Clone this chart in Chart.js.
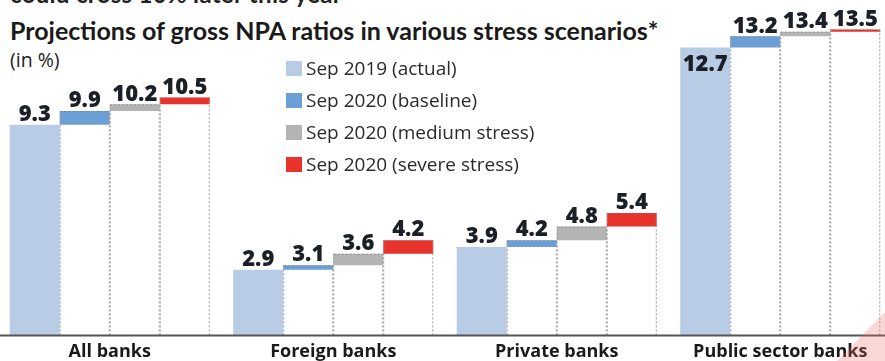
<!DOCTYPE html>
<html>
<head>
<meta charset="utf-8">
<script src="https://cdn.jsdelivr.net/npm/chart.js@4/dist/chart.umd.min.js"></script>
<style>
    body { margin: 0; background: #fff; width: 885px; height: 361px; overflow: hidden; position: relative; font-family: "Open Sans", sans-serif; }
    #topline { position: absolute; left: 10px; top: -21px; font-family: Lato, sans-serif; font-size: 24px; font-weight: 700; color: #222; white-space: nowrap; letter-spacing: 0.3px; }
    #titulo { position: absolute; left: 10px; top: 15px; font-family: Lato, sans-serif; font-size: 25px; font-weight: 700; color: #1a1a1a; white-space: nowrap; }
    #unidade { position: absolute; left: 10px; top: 46px; font-size: 19.5px; color: #222; }
    #legenda { position: absolute; left: 286px; top: 52px; }
    .item { height: 32px; font-size: 19px; color: #2a2a2a; display: flex; align-items: center; white-space: nowrap; }
    .item span { display: inline-block; width: 16px; height: 15px; margin-right: 4px; }
    #grafico_box { position: absolute; left: -2px; top: 0; width: 894px; height: 361px; }
    #canto { position: absolute; left: 0; top: 0; width: 885px; height: 361px; pointer-events: none;
             background: rgba(238, 110, 110, 0.28); clip-path: polygon(837px 361px, 885px 312px, 885px 361px); }
</style>
</head>
<body>
<div id="topline">could cross 10% later this year</div>
<div id="titulo">Projections of gross NPA ratios in various stress scenarios*</div>
<div id="unidade">(in %)</div>
<div id="grafico_box"><canvas id="grafico"></canvas></div>
<div id="legenda"></div>
<div id="canto"></div>

<script>
// dados
const categorias = ['All banks', 'Foreign banks', 'Private banks', 'Public sector banks'];
const series = ['Sep 2019 (actual)', 'Sep 2020 (baseline)', 'Sep 2020 (medium stress)', 'Sep 2020 (severe stress)'];
const sep2019 = [9.3, 2.9, 3.9, 12.7];
const baseline = [9.9, 3.1, 4.2, 13.2];
const medio = [10.2, 3.6, 4.8, 13.4];
const severo = [10.5, 4.2, 5.4, 13.5];
const cores = ['#b8cce6', '#6c9fd6', '#b4b4b4', '#e8332c'];

const valores = [sep2019, baseline, medio, severo];

// legenda em html
const legenda = document.getElementById('legenda');
series.forEach(function (s, i) {
    legenda.innerHTML += "<div class='item'><span style='background:" + cores[i] + "'></span>" + s + "</div>";
});

// cada projeção é uma faixa flutuante a partir do valor anterior (cascata)
const datasets = valores.map(function (v, i) {
    return {
        label: series[i],
        data: i === 0 ? v : v.map((x, j) => [valores[i - 1][j], x]),
        backgroundColor: cores[i],
        borderWidth: 0,
        stack: 's' + i
    };
});

// linhas pontilhadas e rótulos
const extras = {
    id: 'extras',
    afterDatasetsDraw(chart) {
        const ctx = chart.ctx;
        const y = chart.scales.y;
        const zero = y.getPixelForValue(0);
        ctx.save();
        for (let d = 1; d < 4; d++) {
            chart.getDatasetMeta(d).data.forEach(function (bar) {
                const esq = bar.x - bar.width / 2 + 0.5;
                const dir = bar.x + bar.width / 2 - 0.5;
                ctx.strokeStyle = '#9a9a9a';
                ctx.lineWidth = 1;
                ctx.setLineDash([2, 2]);
                ctx.beginPath();
                ctx.moveTo(esq, zero); ctx.lineTo(esq, bar.y);
                ctx.moveTo(dir, zero); ctx.lineTo(dir, bar.y);
                ctx.stroke();
                ctx.strokeStyle = 'rgba(120,120,120,0.6)';
                ctx.beginPath();
                ctx.moveTo(esq, bar.y + 0.5); ctx.lineTo(dir, bar.y + 0.5);
                ctx.stroke();
            });
        }
        ctx.setLineDash([]);
        ctx.font = "800 22px 'Open Sans'";
        ctx.fillStyle = '#1b1f26';
        ctx.textAlign = 'center';
        for (let d = 0; d < 4; d++) {
            chart.getDatasetMeta(d).data.forEach(function (bar, j) {
                const txt = valores[d][j].toFixed(1);
                if (d === 0 && bar.y < 60) {
                    ctx.textBaseline = 'top';
                    ctx.fillText(txt, bar.x, bar.y + 6);
                } else {
                    ctx.textBaseline = 'bottom';
                    ctx.fillText(txt, bar.x, bar.y + 1);
                }
            });
        }
        // linha do eixo
        ctx.strokeStyle = '#555';
        ctx.lineWidth = 2;
        ctx.beginPath();
        ctx.moveTo(0, zero); ctx.lineTo(chart.width, zero);
        ctx.stroke();
        ctx.restore();
    }
};

new Chart(document.getElementById('grafico'), {
    type: 'bar',
    data: { labels: categorias, datasets: datasets },
    options: {
        responsive: true,
        maintainAspectRatio: false,
        animation: false,
        categoryPercentage: 0.895,
        barPercentage: 1,
        layout: { padding: 0 },
        plugins: { legend: { display: false }, tooltip: { enabled: false } },
        scales: {
            x: {
                grid: { display: false },
                border: { display: false },
                ticks: { color: '#1a1a1a', padding: -2, font: { family: 'Open Sans', size: 18, weight: 'bold' } }
            },
            y: { display: false, min: 0, max: 14.8 }
        }
    },
    plugins: [extras]
});
</script>
</body>
</html>
